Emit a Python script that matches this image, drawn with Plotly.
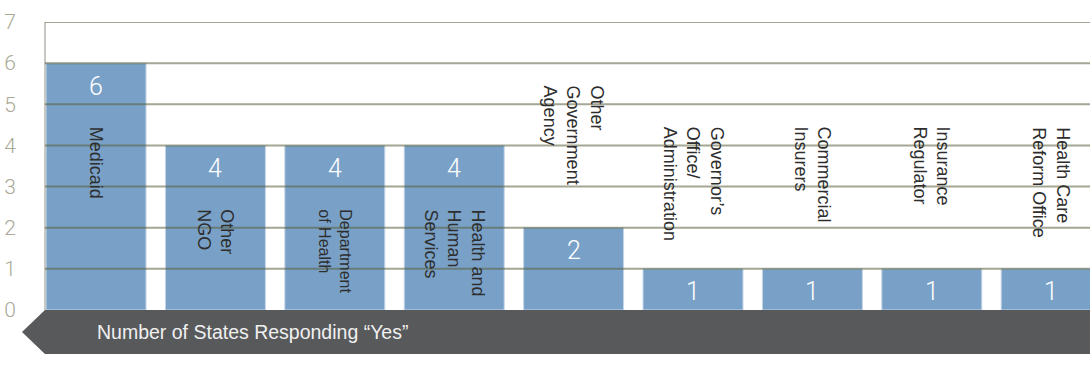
import plotly.graph_objects as go

# Agencies / organisations and the number of states answering "Yes"
categories = [
    "Medicaid",
    "Other<br>NGO",
    "Department<br>of Health",
    "Health and<br>Human<br>Services",
    "Other<br>Government<br>Agency",
    "Governor’s<br>Office/<br>Administration",
    "Commercial<br>Insurers",
    "Insurance<br>Regulator",
    "Health Care<br>Reform Office",
]
states_yes = [6, 4, 4, 4, 2, 1, 1, 1, 1]
y_ticks = [0, 1, 2, 3, 4, 5, 6, 7]
banner_text = "Number of States Responding “Yes”"

BAR_COLOR = "#79a1c7"
GRID_COLOR = "rgba(90,95,60,0.55)"
TICK_COLOR = "#a9a996"
BANNER_COLOR = "#58595b"
LABEL_COLOR = "#2e2e2e"
FONT = "Liberation Sans, Arial, sans-serif"
LIGHT_FONT = "Roboto, Liberation Sans, sans-serif"

xs = list(range(len(categories)))

fig = go.Figure(
    go.Bar(
        x=xs,
        y=states_yes,
        marker=dict(color=BAR_COLOR, line=dict(width=1, color="#c6d6e8")),
        hoverinfo="skip",
    )
)

annotations = []
for i, (cat, v) in enumerate(zip(categories, states_yes)):
    # value printed near the top of each bar
    annotations.append(dict(
        x=i, y=v, xref="x", yref="y", text=str(v), showarrow=False,
        yanchor="middle", xanchor="center", yshift=-23,
        font=dict(family=LIGHT_FONT, size=25, color="white", weight=300),
    ))
    # vertical category label: inside tall bars, above short ones
    inside = v >= 4
    top = v - 1.5 if inside else v + 3.5
    size = 16 if cat.startswith("Department") else 18
    annotations.append(dict(
        x=i, y=top, xref="x", yref="y", text=cat, showarrow=False,
        textangle=90, xanchor="center", yanchor="top", align="left",
        font=dict(family=FONT, size=size, color=LABEL_COLOR),
    ))

annotations.append(dict(
    x=0.047, y=-0.0764, xref="paper", yref="paper", text=banner_text,
    showarrow=False, xanchor="left", yanchor="middle",
    font=dict(family=FONT, size=19.5, color="#f0f0f0"),
))

shapes = []
# horizontal rules drawn over the bars
for t in y_ticks[1:]:
    shapes.append(dict(
        type="line", xref="paper", yref="y", x0=-0.001, x1=1, y0=t, y1=t,
        line=dict(color=GRID_COLOR, width=2), layer="above",
    ))
# arrow-shaped banner below the axis
shapes.append(dict(
    type="path", xref="paper", yref="paper",
    path="M -0.001 0 L 1.01 0 L 1.01 -0.1528 L -0.001 -0.1528 L -0.023 -0.0764 Z",
    fillcolor=BANNER_COLOR, line=dict(width=0), layer="above",
))

fig.update_layout(
    width=1090, height=374,
    margin=dict(l=46, r=0, t=22, b=64),
    paper_bgcolor="white", plot_bgcolor="white",
    bargap=0.1625,
    showlegend=False,
    annotations=annotations,
    shapes=shapes,
    xaxis=dict(range=[-0.419, 8.325], showticklabels=False, showgrid=False,
               zeroline=False, showline=False, fixedrange=True),
    yaxis=dict(range=[0, 7], tickvals=y_ticks, showgrid=False, zeroline=False,
               showline=True, linecolor="#c8c8c2", linewidth=2,
               ticks="", ticklabelstandoff=24,
               tickfont=dict(family=LIGHT_FONT, size=21, color=TICK_COLOR,
                             weight=300),
               fixedrange=True),
)

fig.write_html("out.html")
